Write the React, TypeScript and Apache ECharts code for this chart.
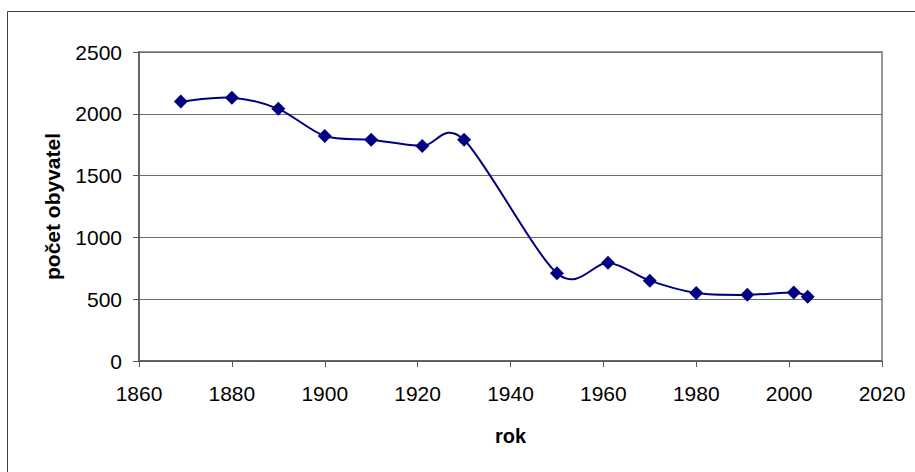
import React, { useEffect, useRef } from "react";
import * as echarts from "echarts";

const years = [1869, 1880, 1890, 1900, 1910, 1921, 1930, 1950, 1961, 1970, 1980, 1991, 2001, 2004];
const population = [2100, 2130, 2040, 1820, 1790, 1740, 1790, 710, 795, 650, 550, 535, 555, 520];
const xAxisTitle = "rok";
const yAxisTitle = "počet obyvatel";

export default function App() {
  const ref = useRef<HTMLDivElement>(null);
  useEffect(() => {
    if (!ref.current) return;
    const chart = echarts.init(ref.current, null, { renderer: "svg" });
    const font = "'Liberation Sans', Arial, sans-serif";
    const points = years.map((y, i) => [y, population[i]]);
    const n = points.length;
    chart.setOption({
      animation: false,
      backgroundColor: "#ffffff",
      graphic: [
        {
          type: "rect",
          shape: { x: 7.5, y: 11.5, width: 930, height: 480 },
          style: { fill: "none", stroke: "#404040", lineWidth: 1 },
          silent: true,
        },
      ],
      grid: {
        left: 139,
        top: 52,
        right: 33,
        bottom: 111,
        show: true,
        borderColor: "#999999",
        borderWidth: 2,
      },
      xAxis: {
        type: "value",
        min: 1860,
        max: 2020,
        interval: 20,
        name: xAxisTitle,
        nameLocation: "middle",
        nameGap: 65,
        nameTextStyle: { fontFamily: font, fontSize: 20, fontWeight: "bold", color: "#000" },
        axisLine: { show: true, onZero: false, lineStyle: { color: "#555555", width: 1.5 } },
        axisTick: { show: true, length: 6, lineStyle: { color: "#555555" } },
        axisLabel: { fontFamily: font, fontSize: 21, color: "#000", margin: 22, formatter: (v: number) => String(v) },
        splitLine: { show: false },
      },
      yAxis: {
        type: "value",
        min: 0,
        max: 2500,
        interval: 500,
        name: yAxisTitle,
        nameLocation: "middle",
        nameGap: 76,
        nameTextStyle: { fontFamily: font, fontSize: 21, fontWeight: "bold", color: "#000" },
        axisLine: { show: true, lineStyle: { color: "#555555", width: 1.5 } },
        axisTick: { show: true, length: 6, lineStyle: { color: "#555555" } },
        axisLabel: { fontFamily: font, fontSize: 21, color: "#000", margin: 17, formatter: (v: number) => String(v) },
        splitLine: { show: true, lineStyle: { color: "#6e6e6e", width: 1 } },
      },
      series: [
        {
          type: "custom",
          data: points,
          encode: { x: 0, y: 1 },
          silent: true,
          z: 2,
          renderItem: (params: any, api: any) => {
            const i = params.dataIndex;
            if (i >= n - 1) return null;
            const c = (j: number) => {
              const k = Math.max(0, Math.min(n - 1, j));
              return api.coord(points[k]);
            };
            const p0 = c(i - 1);
            const p1 = c(i);
            const p2 = c(i + 1);
            const p3 = c(i + 2);
            const t = 0.15;
            return {
              type: "bezierCurve",
              shape: {
                x1: p1[0],
                y1: p1[1],
                cpx1: p1[0] + (p2[0] - p0[0]) * t,
                cpy1: p1[1] + (p2[1] - p0[1]) * t,
                cpx2: p2[0] - (p3[0] - p1[0]) * t,
                cpy2: p2[1] - (p3[1] - p1[1]) * t,
                x2: p2[0],
                y2: p2[1],
              },
              style: { stroke: "#000080", lineWidth: 2, fill: "none" },
            };
          },
        },
        {
          type: "scatter",
          data: points,
          symbol: "diamond",
          symbolSize: 14,
          z: 3,
          itemStyle: { color: "#000080", opacity: 1 },
        },
      ],
    });
    return () => chart.dispose();
  }, []);
  return (
    <div
      ref={ref}
      style={{ position: "absolute", left: 0, top: 0, width: 915, height: 472 }}
    />
  );
}
